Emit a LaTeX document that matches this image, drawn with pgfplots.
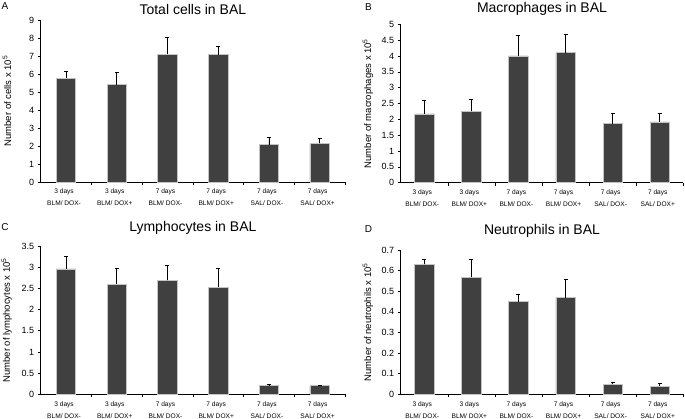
\documentclass[border=0pt]{standalone}
\usepackage{pgfplots}
\pgfplotsset{compat=1.18}
\usepackage{fontspec}
\setmainfont{Liberation Sans}
\definecolor{barfill}{HTML}{404040}
\definecolor{baredge}{HTML}{C4C4C4}

\pgfplotstableread{
x y e
1 5.76 0.38
2 5.41 0.69
3 7.11 0.90
4 7.07 0.46
5 2.07 0.38
6 2.15 0.26
}\dataA
\pgfplotstableread{
x y e
1 2.17 0.43
2 2.25 0.39
3 4.00 0.65
4 4.10 0.59
5 1.86 0.32
6 1.92 0.26
}\dataB
\pgfplotstableread{
x y e
1 2.96 0.29
2 2.60 0.37
3 2.69 0.35
4 2.53 0.45
5 0.20 0.04
6 0.20 0.01
}\dataC
\pgfplotstableread{
x y e
1 0.630 0.026
2 0.567 0.088
3 0.449 0.036
4 0.469 0.089
5 0.048 0.012
6 0.040 0.013
}\dataD

\pgfplotsset{
 panel/.style={
  scale only axis,
  axis x line*=bottom, axis y line*=left,
  axis line style={black, line width=0.6pt},
  xmin=0.5, xmax=6.5, ymin=0, enlargelimits=false,
  xtick={1,...,6},
  xticklabels={{3 days\\BLM/ DOX-},{3 days\\BLM/ DOX+},{7 days\\BLM/ DOX-},{7 days\\BLM/ DOX+},{7 days\\SAL/ DOX-},{7 days\\SAL/ DOX+}},
  minor xtick={1.5,2.5,3.5,4.5,5.5,6.5},
  major x tick style={draw=none},
  tick align=outside, tick style={black, line width=0.6pt},
  major tick length=3pt, minor tick length=3pt,
  xticklabel style={align=center, font=\fontsize{6.6}{12}\selectfont, yshift=-0.5pt, xshift=-2pt},
  yticklabel style={font=\fontsize{9}{10}\selectfont},
  /pgf/number format/assume math mode=true,
  every axis title/.style={at={(axis description cs:0.5,1)}, anchor=center, font=\fontsize{14}{16}\selectfont},
  ybar, bar width=19.3pt,
  clip=false,
 },
 ylab/.style={every axis y label/.style={at={(axis description cs:#1,0.5)}, rotate=90, anchor=center, font=\fontsize{9.5}{10}\selectfont}},
 barstyle/.style={fill=barfill, draw=baredge, line width=0.7pt,
   error bars/.cd, y dir=plus, y explicit,
   error bar style={black, line width=0.8pt},
   error mark options={black, line width=0.8pt, mark size=2pt, rotate=90}},
}

\begin{document}
\begin{tikzpicture}[x=1pt,y=1pt]
\path[use as bounding box] (0,0) rectangle (685,419);

\begin{axis}[panel, at={(40.7pt,237pt)}, anchor=south west, width=304.3pt, height=162pt,
  ymax=9, ytick distance=1, title={Total cells in BAL}, title style={yshift=11pt},
  ylab=-0.111, ylabel={Number of cells x 10\textsuperscript{5}}]
\addplot[barstyle] table[x=x, y=y, y error=e] {\dataA};
\end{axis}

\begin{axis}[panel, at={(400.7pt,236.3pt)}, anchor=south west, width=282.6pt, height=158.4pt,
  ymax=5, ytick distance=0.5, title={Macrophages in BAL}, title style={yshift=15.5pt},
  ylab=-0.1157, ylabel={Number of macrophages x 10\textsuperscript{5}}]
\addplot[barstyle] table[x=x, y=y, y error=e] {\dataB};
\end{axis}

\begin{axis}[panel, at={(40.7pt,24.7pt)}, anchor=south west, width=304.3pt, height=148.3pt,
  ymax=3.5, ytick distance=0.5, title={Lymphocytes in BAL}, title style={yshift=18pt},
  ylab=-0.112, ylabel={Number of lymphocytes x 10\textsuperscript{5}}]
\addplot[barstyle] table[x=x, y=y, y error=e] {\dataC};
\end{axis}

\begin{axis}[panel, at={(400.7pt,24.7pt)}, anchor=south west, width=282.6pt, height=144.3pt,
  ymax=0.7, ytick distance=0.1, title={Neutrophils in BAL}, title style={yshift=19pt},
  ylab=-0.1157, ylabel={Number of neutrophils x 10\textsuperscript{5}}]
\addplot[barstyle] table[x=x, y=y, y error=e] {\dataD};
\end{axis}

\node[font=\fontsize{10}{12}\selectfont] at (5,412.5) {A};
\node[font=\fontsize{10}{12}\selectfont] at (368.5,412.3) {B};
\node[font=\fontsize{10}{12}\selectfont] at (5,192) {C};
\node[font=\fontsize{10}{12}\selectfont] at (368.5,190) {D};
\end{tikzpicture}
\end{document}
